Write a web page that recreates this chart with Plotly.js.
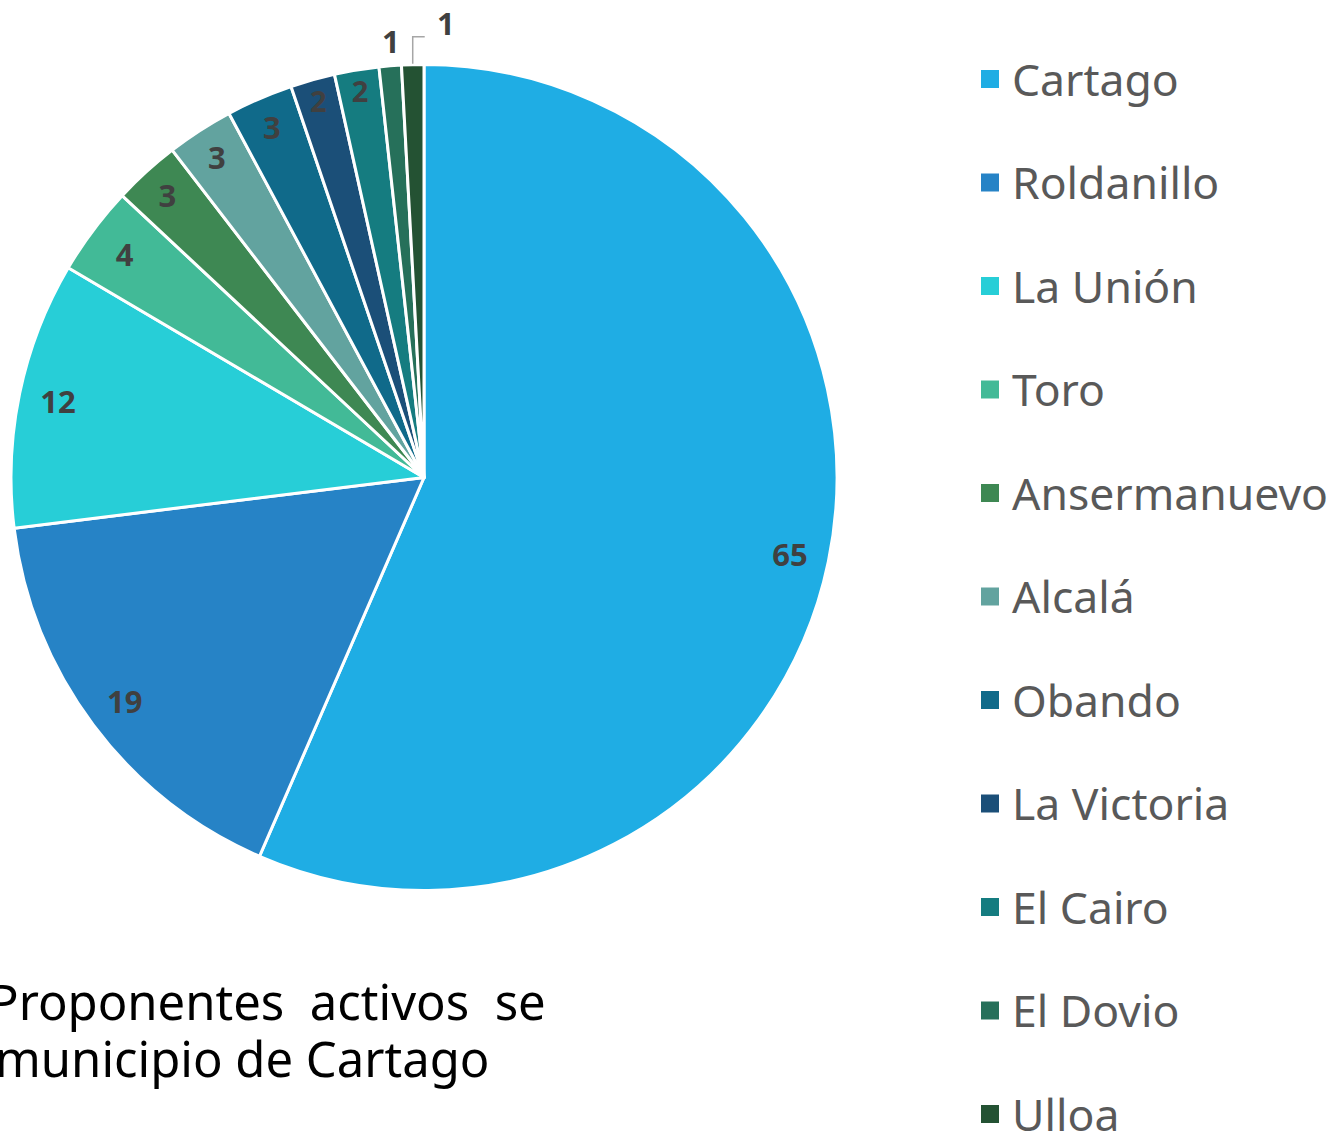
<!DOCTYPE html>
<html>
<head>
<meta charset="utf-8">
<script src="https://cdn.plot.ly/plotly-3.0.1.min.js"></script>
<style>html,body{margin:0;padding:0;background:#fff;}#chart{width:1328px;height:1134px;}</style>
</head>
<body>
<div id="chart"></div>
<script>
// ---- data ----
const municipios = ["Cartago","Roldanillo","La Unión","Toro","Ansermanuevo","Alcalá","Obando","La Victoria","El Cairo","El Dovio","Ulloa"];
const proponentes = [65, 19, 12, 4, 3, 3, 3, 2, 2, 1, 1];
const colores = ["#1FADE4","#2683C6","#27CED7","#42BA97","#3E8853","#62A39F","#106A8A","#1B4F78","#157C80","#26705A","#245233"];
const textoInferior = ["Proponentes\u00a0\u00a0activos\u00a0\u00a0se", "municipio de Cartago"];

// ---- layout helpers (pixel -> paper) ----
const W = 1328, H = 1134;
const cx = 424, cy = 477.5, R = 413;
const px = x => x / W;
const py = y => 1 - y / H;

const labelFont = {family: "Noto Sans, DejaVu Sans, sans-serif", size: 31, color: "#404040", weight: 700};

// small slices labelled outside
const outsideIdx = proponentes.map((v, i) => (v <= 1 ? i : -1)).filter(i => i >= 0);
const textPos = proponentes.map((v, i) => outsideIdx.includes(i) ? "none" : "inside");

const traces = [
  {
    type: "pie",
    values: proponentes,
    labels: municipios,
    sort: false,
    direction: "clockwise",
    rotation: 0,
    marker: {colors: colores, line: {color: "#ffffff", width: 3}},
    textinfo: "none",
    hoverinfo: "label+value",
    showlegend: false,
    domain: {x: [px(cx - R), px(cx + R)], y: [py(cy + R), py(cy - R)]}
  },
  {
    type: "pie",
    values: proponentes,
    labels: municipios,
    sort: false,
    direction: "clockwise",
    rotation: 0,
    hole: 0.81,
    marker: {colors: proponentes.map(() => "rgba(0,0,0,0)"), line: {width: 0}},
    text: proponentes.map(String),
    textinfo: "text",
    textposition: textPos,
    insidetextorientation: "horizontal",
    insidetextfont: labelFont,
    hoverinfo: "skip",
    showlegend: false,
    domain: {x: [px(cx - R), px(cx + R)], y: [py(cy + R), py(cy - R)]}
  }
];

const annotations = [];
const shapes = [];

// outside labels for the thin slices, positioned from the data angles
const total = proponentes.reduce((a, b) => a + b, 0);
let cum = 0;
const midAngles = proponentes.map(v => { const m = (cum + v / 2) / total * 2 * Math.PI; cum += v; return m; });
outsideIdx.forEach((i, k) => {
  const a = midAngles[i];
  const ex = cx + R * Math.sin(a), ey = cy - R * Math.cos(a);
  if (k === 0) {
    const r2 = R + 25;
    annotations.push({x: px(cx + r2 * Math.sin(a) + 3), y: py(cy - r2 * Math.cos(a)), xref: "paper", yref: "paper",
      text: String(proponentes[i]), showarrow: false, font: labelFont, xanchor: "center", yanchor: "middle"});
  } else {
    const ty = ey - 28, tx = ex + 12;
    shapes.push({type: "path", xref: "paper", yref: "paper",
      path: `M ${px(ex)} ${py(ey - 1)} L ${px(ex)} ${py(ty)} L ${px(tx)} ${py(ty)}`,
      line: {color: "#A6A6A6", width: 1.5}});
    annotations.push({x: px(tx + 10), y: py(ty - 14), xref: "paper", yref: "paper",
      text: String(proponentes[i]), showarrow: false, font: labelFont, xanchor: "left", yanchor: "middle"});
  }
});

// custom legend
const legTop = 79, legStep = 103.5;
municipios.forEach((m, i) => {
  const yc = legTop + i * legStep;
  shapes.push({type: "rect", xref: "paper", yref: "paper",
    x0: px(981), x1: px(999), y0: py(yc + 9), y1: py(yc - 9),
    fillcolor: colores[i], line: {width: 0}});
  annotations.push({x: px(1010), y: py(yc - 1), xref: "paper", yref: "paper", text: m, showarrow: false,
    xanchor: "left", yanchor: "middle",
    font: {family: "Noto Sans, DejaVu Sans, sans-serif", size: 44.5, color: "#595959"}});
});

// bottom caption (partially cut at the left edge, as in the original)
const capEnds = [548, 492];
const capY = [1001, 1058];
textoInferior.forEach((t, i) => {
  annotations.push({x: px(capEnds[i]), y: py(capY[i]), xref: "paper", yref: "paper", text: t, showarrow: false,
    xanchor: "right", yanchor: "middle",
    font: {family: "Noto Sans, DejaVu Sans, sans-serif", size: 49, color: "#000000"}});
});

const layout = {
  width: W, height: H,
  margin: {l: 0, r: 0, t: 0, b: 0},
  paper_bgcolor: "#ffffff",
  showlegend: false,
  annotations: annotations,
  shapes: shapes
};

Plotly.newPlot("chart", traces, layout, {displayModeBar: false, staticPlot: true});
</script>
</body>
</html>
